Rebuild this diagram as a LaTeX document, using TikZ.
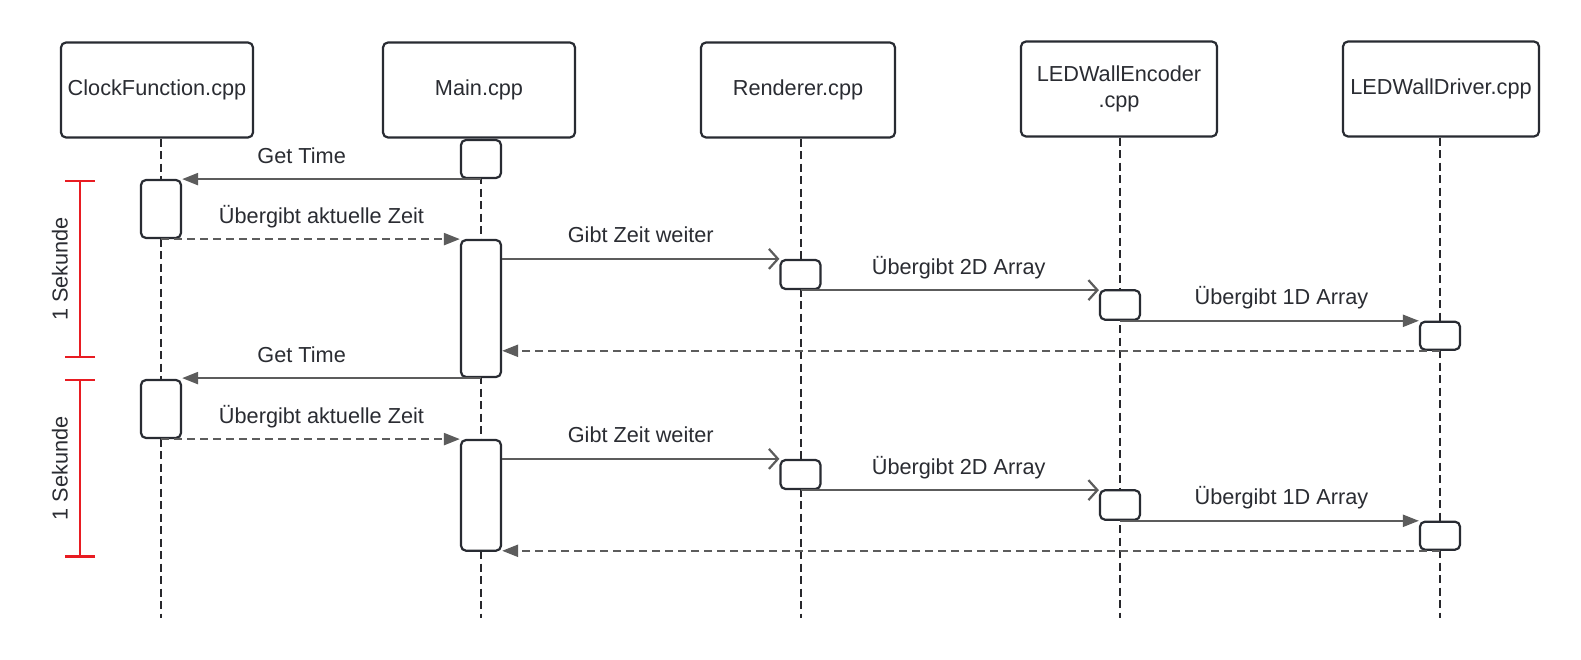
\documentclass[tikz,border=0pt]{standalone}
\usepackage{fontspec}
\setmainfont{Liberation Sans}
\usetikzlibrary{arrows.meta}

\begin{document}
\begin{tikzpicture}[x=1pt,y=1pt,
	font=\fontsize{21.7}{26}\selectfont,
	hdr/.style={draw=boxColor,line width=2.2pt,rounded corners=5pt,minimum width=192pt,minimum height=95pt,align=center,text=textColor,inner sep=0pt},
	act/.style={draw=boxColor,line width=2.2pt,rounded corners=5pt,fill=white,minimum width=40pt,inner sep=0pt},
	life/.style={draw=lifeColor,line width=2pt,dash pattern=on 8pt off 4.5pt},
	msg/.style={draw=lineColor,line width=2.2pt,-{Triangle[length=16pt,width=12pt]}},
	opn/.style={draw=lineColor,line width=2.2pt,-{Straight Barb[length=9pt,width=20pt]}},
	rpl/.style={msg,dash pattern=on 8pt off 5pt},
	lbl/.style={text=textColor,anchor=base,inner sep=0pt,outer sep=0pt,yshift=16pt},
	sek/.style={draw=sekColor,line width=2.4pt,{Bar[width=30pt]}-{Bar[width=30pt]}},
	sekl/.style={text=textColor,rotate=90,anchor=base,inner sep=0pt,outer sep=0pt}]
\definecolor{fillColor}{RGB}{255,255,255}
\definecolor{textColor}{RGB}{42,44,50}
\definecolor{boxColor}{RGB}{40,43,50}
\definecolor{lifeColor}{RGB}{40,40,44}
\definecolor{lineColor}{RGB}{92,92,92}
\definecolor{sekColor}{RGB}{232,28,34}
\path[use as bounding box,fill=fillColor] (0,0) rectangle (1581,659);

\node[hdr] (clockH) at (157,569) {ClockFunction.cpp};

\node[hdr] (mainH) at (479,569) {Main.cpp};

\node[hdr,minimum width=194pt] (rendH) at (798,569) {Renderer.cpp};

\node[hdr,minimum width=196pt] (encH) at (1119,570) {LEDWallEncoder\\.cpp};

\node[hdr,minimum width=196pt] (drvH) at (1441,570) {LEDWallDriver.cpp};

\coordinate (clockE) at (161,41);
\coordinate (mainE) at (481,41);
\coordinate (rendE) at (800.5,41);
\coordinate (encE) at (1120,41);
\coordinate (drvE) at (1440,41);

\path[life] (clockH.south -| clockE) -- (clockE);

\path[life] (mainH.south -| mainE) -- (mainE);

\path[life] (rendH.south -| rendE) -- (rendE);

\path[life] (encH.south -| encE) -- (encE);

\path[life] (drvH.south -| drvE) -- (drvE);

\node[act,minimum height=38pt] (mainA) at (481,500) {};

\node[act,minimum height=58pt] (clockA) at (161,450) {};

\node[act,minimum height=137pt] (mainB) at (481,350.5) {};

\node[act,minimum height=29pt] (rendA) at (800.5,384.5) {};

\node[act,minimum height=29.4pt] (encA) at (1120,354) {};

\node[act,minimum height=28pt] (drvA) at (1440,323.3) {};

\node[act,minimum height=58pt] (clockB) at (161,250) {};

\node[act,minimum height=110.7pt] (mainC) at (481,163.65) {};

\node[act,minimum height=29pt] (rendB) at (800.5,184.5) {};

\node[act,minimum height=29.4pt] (encB) at (1120,154) {};

\node[act,minimum height=28pt] (drvB) at (1440,123.3) {};

\path[msg] (mainA.south) -- node[lbl,pos=0.6] (getA) {Get Time} (mainA.south -| clockA.east);

\path[rpl] (clockA.south) -- node[lbl,pos=0.537] (zeitA) {Übergibt aktuelle Zeit} (clockA.south -| mainB.west);

\path[opn] (mainB.east |- rendA.north) -- node[lbl,pos=0.5] (gibtA) {Gibt Zeit weiter} (rendA.north west);

\path[opn] (rendA.south) -- node[lbl,pos=0.53] (zweiA) {Übergibt 2D Array} (rendA.south -| encA.west);

\path[msg] (encA.south) -- node[lbl,pos=0.54] (einsA) {Übergibt 1D Array} (encA.south -| drvA.west);

\path[rpl] (drvA.south) -- (drvA.south -| mainB.east);

\path[msg] (mainB.south) -- node[lbl,pos=0.6] (getB) {Get Time} (mainB.south -| clockB.east);

\path[rpl] (clockB.south) -- node[lbl,pos=0.537] (zeitB) {Übergibt aktuelle Zeit} (clockB.south -| mainC.west);

\path[opn] (mainC.east |- rendB.north) -- node[lbl,pos=0.5] (gibtB) {Gibt Zeit weiter} (rendB.north west);

\path[opn] (rendB.south) -- node[lbl,pos=0.53] (zweiB) {Übergibt 2D Array} (rendB.south -| encB.west);

\path[msg] (encB.south) -- node[lbl,pos=0.54] (einsB) {Übergibt 1D Array} (encB.south -| drvB.west);

\path[rpl] (drvB.south) -- (drvB.south -| mainC.east);

\coordinate (sekAt) at (80,479);
\coordinate (sekAb) at (80,301);
\coordinate (sekBt) at (80,280);
\coordinate (sekBb) at (80,101.3);

\path[sek] (sekAt) -- (sekAb);

\path[sek] (sekBt) -- (sekBb);

\node[sekl] (sekAl) at (67.5,390) {1 Sekunde};

\node[sekl] (sekBl) at (67.5,190.5) {1 Sekunde};
\end{tikzpicture}
\end{document}
